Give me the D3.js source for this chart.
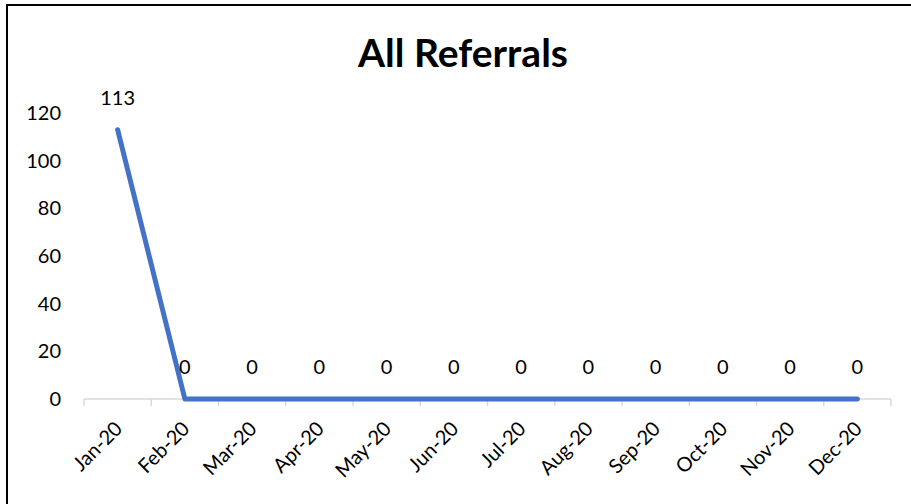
<!DOCTYPE html>
<html><head><meta charset="utf-8">
<script src="https://cdn.jsdelivr.net/npm/d3@7"></script>
<style>body{margin:0;background:#fff}svg{display:block}</style>
</head><body>
<svg id="c" width="911" height="504"></svg>
<script>
const categories = ["Jan-20","Feb-20","Mar-20","Apr-20","May-20","Jun-20","Jul-20","Aug-20","Sep-20","Oct-20","Nov-20","Dec-20"];
const values = [113,0,0,0,0,0,0,0,0,0,0,0];
const yTicks = [0,20,40,60,80,100,120];
const title = "All Referrals";

const svg = d3.select("#c");
const font = "Lato, 'Open Sans', sans-serif";
svg.append("rect").attr("x",7).attr("y",5).attr("width",920).attr("height",520)
  .attr("fill","#fff").attr("stroke","#000").attr("stroke-width",2);

const x = d3.scaleBand().domain(categories).range([84,891]);
const y = d3.scaleLinear().domain([0,120]).range([399,113]);

svg.append("text").attr("x",463).attr("y",67).attr("text-anchor","middle")
  .attr("font-family",font).attr("font-weight","bold").attr("font-size",39).text(title);

// y labels
svg.selectAll(".yl").data(yTicks).enter().append("text")
  .attr("x",61).attr("y",d=>y(d)).attr("dy","0.35em").attr("text-anchor","end")
  .attr("font-family",font).attr("font-size",20).attr("fill","#000").text(d=>d);

// x axis
const xa = svg.append("g");
xa.append("line").attr("x1",84).attr("x2",891).attr("y1",y(0)).attr("y2",y(0))
  .attr("stroke","#d9d9d9").attr("stroke-width",1.5);
const edges = categories.map(c=>x(c)).concat([891]);
xa.selectAll(".tk").data(edges).enter().append("line")
  .attr("x1",d=>d).attr("x2",d=>d).attr("y1",y(0)).attr("y2",y(0)+7)
  .attr("stroke","#d9d9d9").attr("stroke-width",1.5);

const cx = c => x(c)+x.bandwidth()/2;
svg.selectAll(".xl").data(categories).enter().append("text")
  .attr("transform",d=>`translate(${cx(d)+1},${y(0)+26}) rotate(-45)`)
  .attr("text-anchor","end").attr("dy","0.35em")
  .attr("font-family",font).attr("font-size",20).attr("fill","#000").text(d=>d);

const line = d3.line().x((d,i)=>cx(categories[i])).y(d=>y(d));
svg.append("path").datum(values).attr("d",line).attr("fill","none")
  .attr("stroke","#4472C4").attr("stroke-width",5)
  .attr("stroke-linejoin","round").attr("stroke-linecap","round");

svg.selectAll(".dl").data(values).enter().append("text")
  .attr("x",(d,i)=>cx(categories[i])).attr("y",d=>y(d)-32).attr("dy","0.35em")
  .attr("text-anchor","middle").attr("font-family",font).attr("font-size",20)
  .attr("fill","#000").text(d=>d);
</script>
</body></html>
